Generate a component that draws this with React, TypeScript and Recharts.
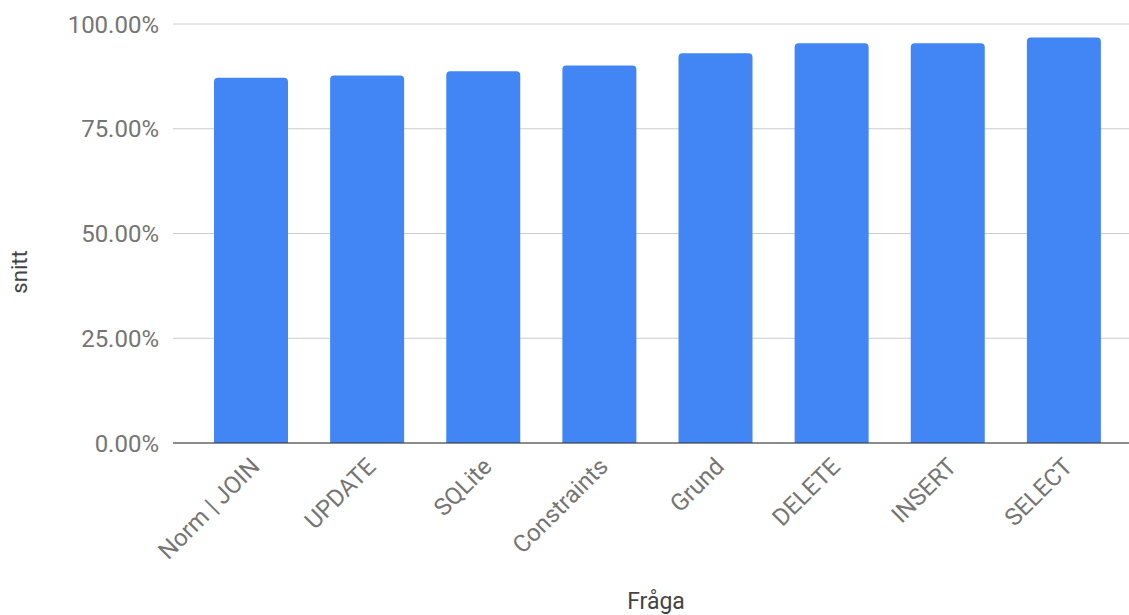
import { Bar, BarChart, CartesianGrid, Label, XAxis, YAxis } from "recharts";

const categories = ["Norm | JOIN", "UPDATE", "SQLite", "Constraints", "Grund", "DELETE", "INSERT", "SELECT"];
const snitt = [87.2, 87.7, 88.7, 90.1, 93.0, 95.4, 95.4, 96.8];
const yTicks = [0, 25, 50, 75, 100];

const data = categories.map((name, i) => ({ name, snitt: snitt[i] }));

const font = "Roboto, 'Noto Sans', sans-serif";

const XTick = ({ x, y, payload }: any) => {
  const ax = x + 10;
  const ay = y + 25;
  return (
    <text x={ax} y={ay} textAnchor="end" fill="#757575" fontSize={24} fontFamily={font} transform={`rotate(-45 ${ax} ${ay})`}>
      {payload.value}
    </text>
  );
};

export default function App() {
  return (
    <div style={{ position: "absolute", left: 0, top: 0, background: "#fff" }}>
      <BarChart width={1129} height={615} data={data} margin={{ top: 24, right: 0, left: 0, bottom: 0 }}>
        <CartesianGrid vertical={false} stroke="#cccccc" />
        <XAxis dataKey="name" height={172} padding={{ left: 20, right: 7 }} tickLine={false} tickSize={0} tickMargin={0} axisLine={{ stroke: "#333333" }} tick={<XTick />} interval={0}>
          <Label content={() => <text x={656} y={609} textAnchor="middle" fill="#444" fontSize={23} fontFamily={font}>Fråga</text>} />
        </XAxis>
        <YAxis width={173} domain={[0, 100]} ticks={yTicks} tickFormatter={(v) => `${v.toFixed(2)}%`} axisLine={false} tickLine={false} tickSize={0} tickMargin={14} tick={{ fill: "#757575", fontSize: 24, fontFamily: font }}>
          <Label content={() => <text x={27} y={272} textAnchor="middle" fill="#444" fontSize={22} fontFamily={font} transform="rotate(-90 27 272)">snitt</text>} />
        </YAxis>
        <Bar dataKey="snitt" fill="#4285f4" barSize={74} radius={[4, 4, 0, 0]} isAnimationActive={false} />
      </BarChart>
    </div>
  );
}
